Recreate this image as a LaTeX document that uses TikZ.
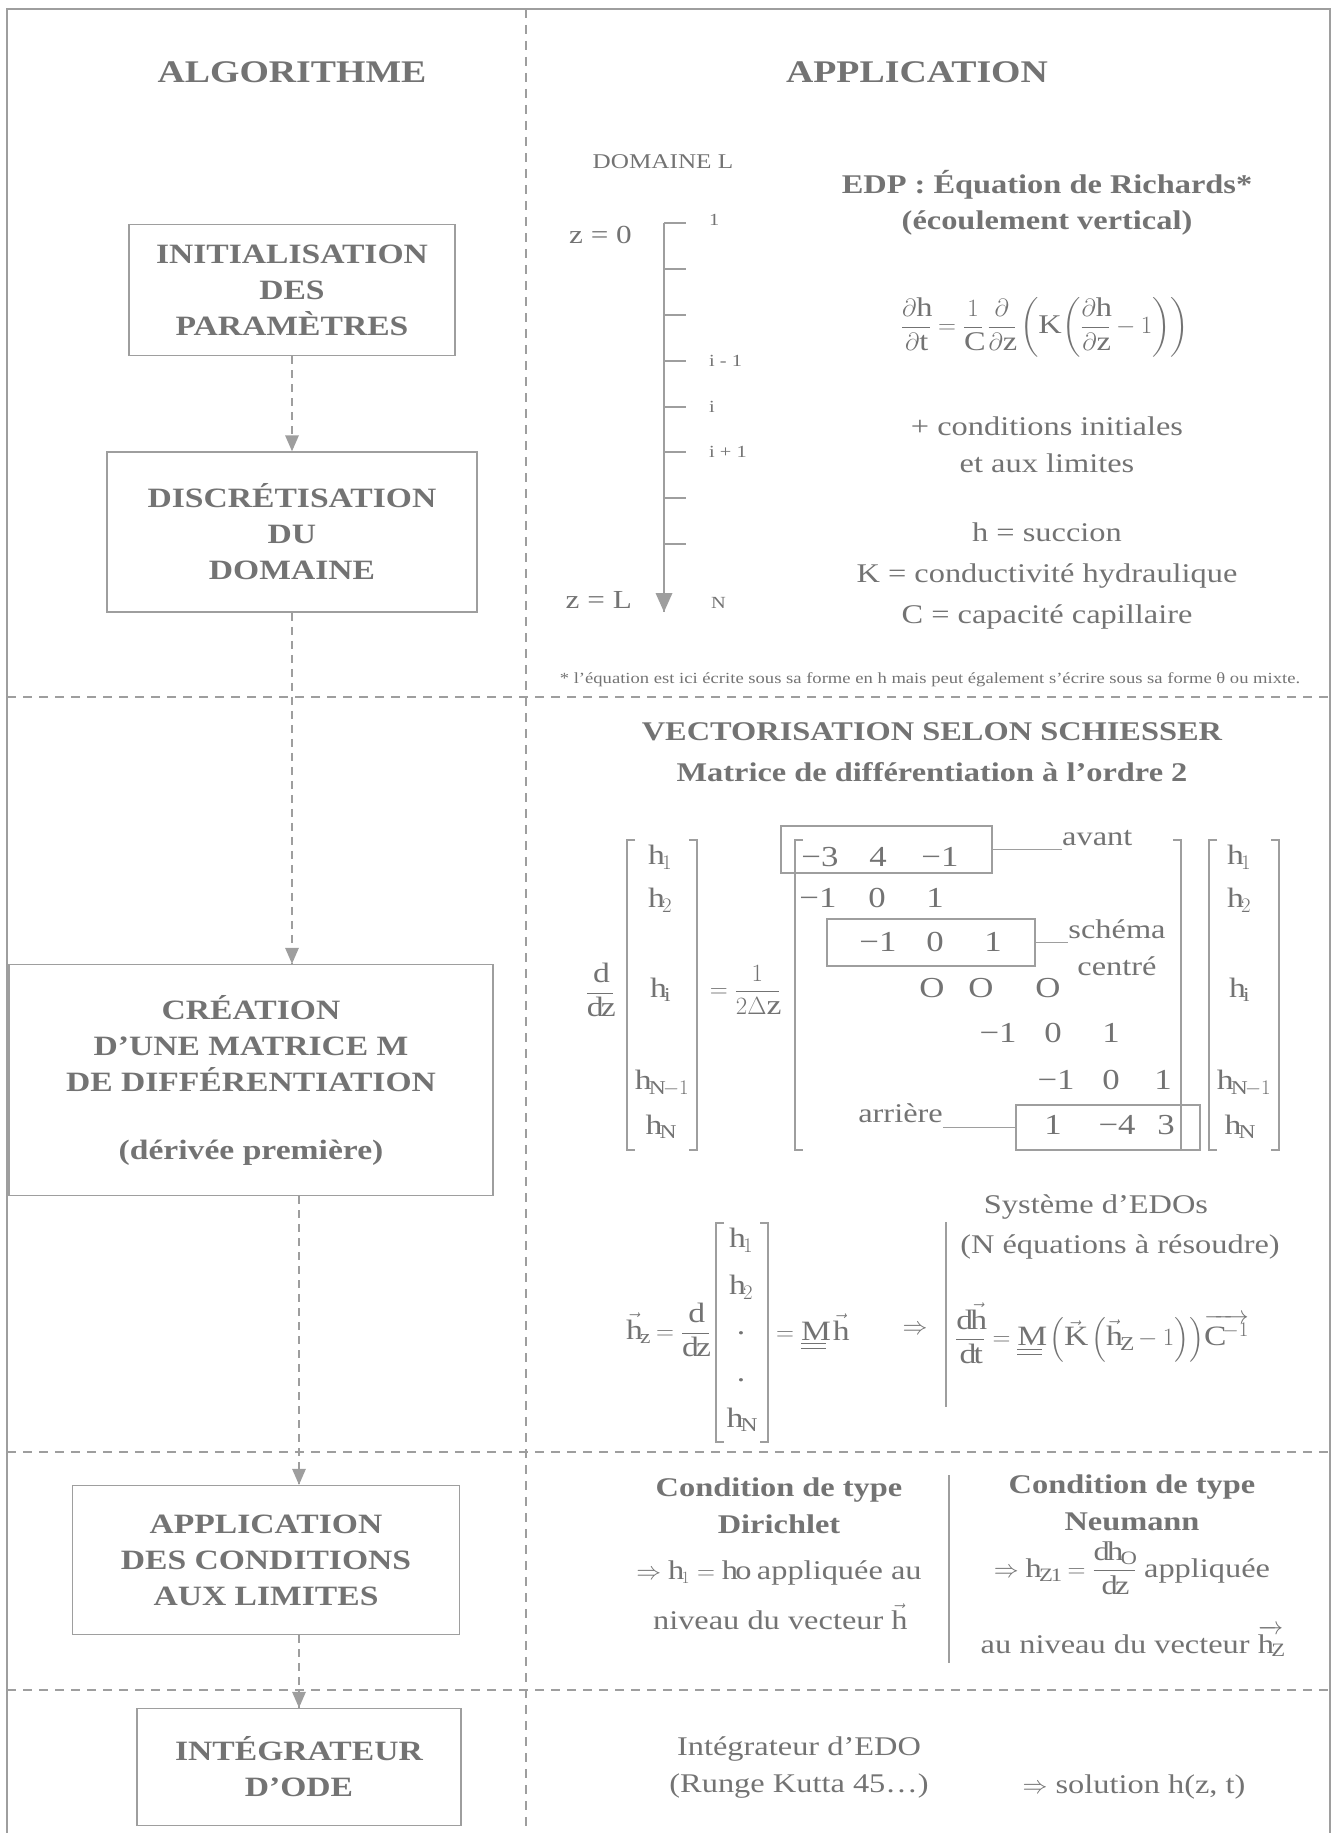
\documentclass[tikz,border=0pt]{standalone}
\usepackage{amsmath}
\usepackage{fontspec}
\setmainfont{Liberation Serif}[FakeStretch=1.2]
\usepackage{tikz}
\definecolor{inkgray}{gray}{0.45}
\definecolor{linegray}{gray}{0.62}

\begin{document}
\begin{tikzpicture}[x=1pt,y=-1pt]
  \tikzstyle{every node}+=[inner sep=0pt, text=inkgray]
  \tikzstyle{txt}=[font=\fontsize{27}{37}\selectfont, align=center]
  \tikzstyle{btxt}=[font=\fontsize{27}{37}\selectfont\bfseries, align=center]
  \tikzstyle{mtx}=[font=\fontsize{28}{32}\selectfont]
  \tikzstyle{coeff}=[font=\fontsize{29}{32}\selectfont]
  \tikzstyle{small}=[font=\fontsize{17}{20}\selectfont, anchor=west]
  \tikzstyle{algobox}=[draw=linegray, line width=1.5pt, font=\fontsize{28}{36}\selectfont\bfseries, align=center]
  \tikzstyle{rowbox}=[draw=linegray, line width=1.3pt]
  \tikzstyle{flow}=[draw=linegray, line width=1.5pt, dash pattern=on 8pt off 6pt]
  \tikzstyle{band}=[draw=linegray, line width=1.3pt, dash pattern=on 9pt off 7pt]
  \tikzstyle{thin}=[draw=linegray, line width=1.3pt]
  \useasboundingbox (0,0) rectangle (1338,1833);
  \draw[thin] (7,1833) -- (7,9) -- (1330,9) -- (1330,1833);
  \draw[band] (526,9) -- (526,1833);
  \draw[band] (7,697) -- (1330,697);
  \draw[band] (7,1452) -- (1330,1452);
  \draw[band] (7,1690) -- (1330,1690);
  \node[font=\fontsize{31.5}{36}\selectfont\bfseries] (algo) at (292,72) {ALGORITHME};
  \node[font=\fontsize{31.5}{36}\selectfont\bfseries] (appli) at (917,72) {APPLICATION};
  \node[algobox, minimum width=326pt, minimum height=131pt] (init) at (292,290) {INITIALISATION\\DES\\PARAMÈTRES};
  \node[algobox, minimum width=370pt, minimum height=160pt] (disc) at (292,532) {DISCRÉTISATION\\DU\\DOMAINE};
  \node[algobox, minimum width=484pt, minimum height=231pt] (crea) at (251,1080) {CRÉATION\\D’UNE MATRICE M\\DE DIFFÉRENTIATION\\[32pt](dérivée première)};
  \node[algobox, minimum width=387pt, minimum height=149pt] (appl) at (266,1560) {APPLICATION\\DES CONDITIONS\\AUX LIMITES};
  \node[algobox, minimum width=324pt, minimum height=117pt] (integ) at (299,1767) {INTÉGRATEUR\\D’ODE};
  \draw[flow] (init) -- (disc);
  \fill[linegray] (disc.north) -- ++(-7,-16) -- ++(14,0) -- cycle;
  \draw[flow] (disc.south) -- (disc.south |- crea.north);
  \fill[linegray] (disc.south |- crea.north) -- ++(-7,-16) -- ++(14,0) -- cycle;
  \draw[flow] (crea.south -| integ.north) -- (appl.north -| integ.north);
  \fill[linegray] (appl.north -| integ.north) -- ++(-7,-16) -- ++(14,0) -- cycle;
  \draw[flow] (appl.south -| integ.north) -- (integ.north);
  \fill[linegray] (integ.north) -- ++(-7,-16) -- ++(14,0) -- cycle;
  \node[font=\fontsize{21}{24}\selectfont] (domaine) at (663,162) {DOMAINE L};
  \coordinate (ztop) at (664,223);
  \coordinate (zbot) at (664,612);
  \node[font=\fontsize{26}{30}\selectfont, anchor=east] (zzero) at (632,235) {z = 0};
  \node[font=\fontsize{26}{30}\selectfont, anchor=east] (zlen) at (632,600) {z = L};
  \draw[linegray, line width=2pt] (ztop) -- (zbot);
  \fill[linegray] (zbot) -- ++(-8.5,-19) -- ++(17,0) -- cycle;
  \draw[linegray, line width=1.5pt] (ztop) -- (686,223);
  \draw[linegray, line width=1.5pt] (664,269) -- (686,269);
  \draw[linegray, line width=1.5pt] (664,315) -- (686,315);
  \draw[linegray, line width=1.5pt] (664,361) -- (686,361);
  \draw[linegray, line width=1.5pt] (664,407) -- (686,407);
  \draw[linegray, line width=1.5pt] (664,452) -- (686,452);
  \draw[linegray, line width=1.5pt] (664,498) -- (686,498);
  \draw[linegray, line width=1.5pt] (664,544) -- (686,544);
  \node[small] (lone) at (709,220) {1};
  \node[small] (lim) at (709,361) {i - 1};
  \node[small] (li) at (709,407) {i};
  \node[small] (lip) at (709,452) {i + 1};
  \node[small] (lN) at (711,603) {N};
  \node[btxt] (edp) at (1047,185) {EDP : Équation de Richards*};
  \node[btxt] (ecoul) at (1047,223) {(écoulement vertical)};
  \node[txt] (richeq) at (1045,327) {$\dfrac{\partial\mathrm{h}}{\partial\mathrm{t}}=\dfrac{1}{\mathrm{C}}\,\dfrac{\partial}{\partial\mathrm{z}}\left(\mathrm{K}\left(\dfrac{\partial\mathrm{h}}{\partial\mathrm{z}}-1\right)\right)$};
  \node[txt] (condini) at (1047,445) {+ conditions initiales\\et aux limites};
  \node[txt, font=\fontsize{27}{41}\selectfont] (defs) at (1047,576) {h = succion\\K = conductivité hydraulique\\C = capacité capillaire};
  \node[font=\fontsize{15.5}{18}\selectfont] (foot) at (930,680) {* l’équation est ici écrite sous sa forme en h mais peut également s’écrire sous sa forme θ ou mixte.};
  \node[btxt] (vecto) at (932,732) {VECTORISATION SELON SCHIESSER};
  \node[btxt] (matord) at (932,772) {Matrice de différentiation à l’ordre 2};
  \node[mtx] (ddz) at (600,990) {$\dfrac{\mathrm{d}}{\mathrm{dz}}$};
  \draw[thin] (635,840) -- (627,840) -- (627,1150) -- (635,1150);
  \draw[thin] (689,840) -- (697,840) -- (697,1150) -- (689,1150);
  \node[mtx] (vha) at (660,857) {$\mathrm{h}_1$};
  \node[mtx] (vhb) at (660,900) {$\mathrm{h}_2$};
  \node[mtx] (vhi) at (660,990) {$\mathrm{h}_\mathrm{i}$};
  \node[mtx] (vhm) at (662,1083) {$\mathrm{h}_{\mathrm{N}-1}$};
  \node[mtx] (vhn) at (660,1127) {$\mathrm{h}_\mathrm{N}$};
  \node[mtx] (coef) at (745,990) {$=\dfrac{1}{2\Delta\mathrm{z}}$};
  \draw[thin] (803,840) -- (795,840) -- (795,1150) -- (803,1150);
  \draw[thin] (1173,840) -- (1181,840) -- (1181,1150) -- (1173,1150);
  \node[coeff] (maa) at (820,857) {−3};
  \node[coeff] (mab) at (878,857) {4};
  \node[coeff] (mac) at (940,857) {−1};
  \node[coeff] (mba) at (818,898) {−1};
  \node[coeff] (mbb) at (877,898) {0};
  \node[coeff] (mbc) at (935,898) {1};
  \node[coeff] (mca) at (878,942) {−1};
  \node[coeff] (mcb) at (935,942) {0};
  \node[coeff] (mcc) at (993,942) {1};
  \node[coeff] (mda) at (932,988) {O};
  \node[coeff] (mdb) at (981,988) {O};
  \node[coeff] (mdc) at (1048,988) {O};
  \node[coeff] (mea) at (998,1033) {−1};
  \node[coeff] (meb) at (1053,1033) {0};
  \node[coeff] (mec) at (1111,1033) {1};
  \node[coeff] (mfa) at (1056,1080) {−1};
  \node[coeff] (mfb) at (1111,1080) {0};
  \node[coeff] (mfc) at (1163,1080) {1};
  \node[coeff] (mga) at (1053,1125) {1};
  \node[coeff] (mgb) at (1117,1125) {−4};
  \node[coeff] (mgc) at (1166,1125) {3};
  \node[rowbox, minimum width=211pt, minimum height=47pt] (fwdbox) at (886.5,849.5) {};
  \node[rowbox, minimum width=208pt, minimum height=47pt] (ctrbox) at (931,942.5) {};
  \node[rowbox, minimum width=184pt, minimum height=45pt] (bwdbox) at (1108,1127.5) {};
  \node[txt, anchor=west] (avant) at (1062,838) {avant};
  \node[txt] (schema) at (1117,948) {schéma\\centré};
  \node[txt, anchor=east] (arriere) at (943,1113) {arrière};
  \draw[thin] (fwdbox.east) -- (fwdbox.east -| avant.west);
  \draw[thin] (ctrbox.east) -- (ctrbox.east -| schema.west);
  \draw[thin] (bwdbox.west) -- (bwdbox.west -| arriere.east);
  \draw[thin] (1217,840) -- (1209,840) -- (1209,1150) -- (1217,1150);
  \draw[thin] (1271,840) -- (1279,840) -- (1279,1150) -- (1271,1150);
  \node[mtx] (wha) at (1239,857) {$\mathrm{h}_1$};
  \node[mtx] (whb) at (1239,900) {$\mathrm{h}_2$};
  \node[mtx] (whi) at (1239,990) {$\mathrm{h}_\mathrm{i}$};
  \node[mtx] (whm) at (1244,1083) {$\mathrm{h}_{\mathrm{N}-1}$};
  \node[mtx] (whn) at (1239,1127) {$\mathrm{h}_\mathrm{N}$};
  \node[txt] (systeme) at (1096,1207) {Système d’EDOs};
  \node[txt] (nequ) at (1120,1247) {(N équations à résoudre)};
  \node[mtx, anchor=east] (hzeq) at (710,1330) {$\vec{\mathrm{h}}_\mathrm{z}=\dfrac{\mathrm{d}}{\mathrm{dz}}$};
  \draw[thin] (724,1223) -- (716,1223) -- (716,1442) -- (724,1442);
  \draw[thin] (760,1223) -- (768,1223) -- (768,1442) -- (760,1442);
  \node[mtx] (uha) at (741,1240) {$\mathrm{h}_1$};
  \node[mtx] (uhb) at (741,1287) {$\mathrm{h}_2$};
  \node[mtx] (udota) at (741,1333) {.};
  \node[mtx] (udotb) at (741,1380) {.};
  \node[mtx] (uhn) at (741,1420) {$\mathrm{h}_\mathrm{N}$};
  \node[mtx, anchor=base west] (mheq) at (776,1340) {$=\underline{\underline{\mathrm{M}}}\;\vec{\mathrm{h}}$};
  \node[mtx] (impl) at (915,1330) {$\Rightarrow$};
  \draw[thin] (946,1222) -- (946,1407);
  \node[mtx, anchor=west] (odeq) at (955,1333) {$\dfrac{\mathrm{d}\vec{\mathrm{h}}}{\mathrm{dt}}=\underline{\underline{\mathrm{M}}}\;\Bigl(\vec{\mathrm{K}}\;\Bigl(\vec{\mathrm{h}}_\mathrm{Z}-1\Bigr)\Bigr)\overrightarrow{\mathrm{C}^{-1}}$};
  \node[btxt] (dirich) at (779,1506) {Condition de type\\Dirichlet};
  \node[txt, font=\fontsize{27}{50}\selectfont] (dirval) at (779,1595) {$\Rightarrow \mathrm{h}_1=\mathrm{ho}$ appliquée au\\niveau du vecteur $\vec{\mathrm{h}}$};
  \draw[thin] (949,1475) -- (949,1663);
  \node[btxt] (neum) at (1132,1503) {Condition de type\\Neumann};
  \node[txt] (neumval) at (1132,1568) {$\Rightarrow \mathrm{h}_{\mathrm{Z1}}=\dfrac{\mathrm{dh}_\mathrm{O}}{\mathrm{dz}}$ appliquée};
  \node[txt] (neumvec) at (1132,1641) {au niveau du vecteur $\overrightarrow{\mathrm{h}_\mathrm{Z}}$};
  \node[txt] (ode) at (799,1768) {Intégrateur d’EDO\\(Runge Kutta 45…)};
  \node[txt] (sol) at (1134,1787) {$\Rightarrow$ solution h(z, t)};
\end{tikzpicture}
\end{document}
